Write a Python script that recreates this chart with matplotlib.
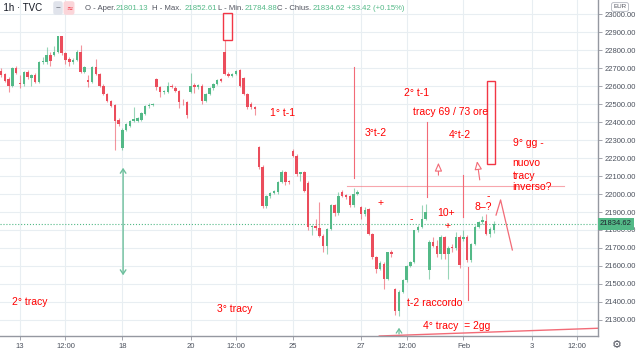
import numpy as np
import matplotlib.pyplot as plt
from matplotlib.patches import Rectangle
from matplotlib.transforms import blended_transform_factory

# DATA --->
# hourly candles, FTSE MIB (TVC), index 0 = last 5 bars of Jan 12
opens = [22685, 22667, 22639, 22602, 22698, 22615, 22611, 22676, 22643, 22661,
         22624, 22732, 22735, 22773, 22773, 22791, 22876, 22784, 22750, 22732,
         22747, 22791, 22680, 22636, 22624, 22704, 22667, 22602, 22556, 22519,
         22495, 22413, 22258, 22358, 22380, 22408, 22408, 22413, 22445, 22487,
         22495, 22639, 22592, 22565, 22565, 22600, 22590, 22574, 22513, 22509,
         22568, 22605, 22592, 22602, 22518, 22555, 22587, 22611, 22639, 22791,
         22667, 22657, 22667, 22690, 22643, 22555, 22500, 22481, 22260, 22149,
         21936, 21987, 22006, 22010, 22065, 22125, 22074, 22241, 22213, 22112,
         22121, 22062, 21815, 21820, 21810, 21769, 21713, 21806, 21939, 21895,
         22010, 21995, 21987, 21939, 22000, 21926, 21889, 21917, 21778, 21648,
         21584, 21611, 21528, 21676, 21473, 21352, 21455, 21520, 21600, 21620,
         21798, 21817, 21863, 21580, 21735, 21713, 21667, 21760, 21667, 21705,
         21700, 21761, 21752, 21761, 21631, 21724, 21817, 21844, 21850, 21780,
         21801.13]
highs = [22700, 22675, 22648, 22705, 22710, 22660, 22685, 22690, 22668, 22670,
         22740, 22760, 22815, 22790, 22820, 22880, 22880, 22790, 22760, 22755,
         22800, 22830, 22710, 22660, 22710, 22750, 22675, 22610, 22560, 22525,
         22500, 22420, 22365, 22395, 22412, 22482, 22430, 22455, 22492, 22505,
         22505, 22645, 22600, 22580, 22620, 22610, 22600, 22580, 22530, 22515,
         22670, 22615, 22610, 22610, 22560, 22592, 22615, 22640, 22645, 22858,
         22680, 22675, 22690, 22695, 22650, 22560, 22510, 22490, 22265, 22160,
         21995, 22012, 22025, 22070, 22135, 22130, 22080, 22250, 22220, 22125,
         22130, 22070, 21830, 21860, 21954, 21780, 21810, 21945, 21945, 22010,
         22020, 22000, 21995, 22035, 22020, 21935, 21930, 21925, 21785, 21655,
         21625, 21620, 21680, 21690, 21480, 21465, 21525, 21605, 21625, 21800,
         21825, 21937, 21946, 21745, 21760, 21745, 21770, 21765, 21710, 21720,
         21790, 21770, 21800, 21770, 21730, 21825, 21850, 21880, 21890, 21815,
         21852.61]
lows = [22650, 22620, 22565, 22595, 22665, 22590, 22600, 22640, 22600, 22615,
        22618, 22720, 22725, 22710, 22765, 22785, 22775, 22720, 22710, 22725,
        22740, 22675, 22670, 22593, 22615, 22660, 22595, 22550, 22510, 22485,
        22245, 22380, 22245, 22350, 22375, 22400, 22400, 22405, 22440, 22480,
        22490, 22580, 22540, 22555, 22560, 22590, 22565, 22480, 22495, 22420,
        22560, 22560, 22585, 22500, 22510, 22548, 22580, 22605, 22625, 22660,
        22650, 22650, 22660, 22595, 22550, 22475, 22470, 22440, 22140, 21925,
        21925, 21980, 22000, 22000, 22060, 22050, 22055, 22205, 22100, 22070,
        22010, 21800, 21770, 21800, 21760, 21680, 21665, 21800, 21880, 21885,
        21985, 21975, 21930, 21930, 21995, 21860, 21880, 21770, 21640, 21560,
        21580, 21470, 21520, 21650, 21330, 21320, 21450, 21510, 21595, 21615,
        21790, 21810, 21855, 21530, 21705, 21650, 21640, 21640, 21530, 21680,
        21690, 21590, 21740, 21620, 21620, 21715, 21810, 21835, 21770, 21760,
        21784.88]
closes = [22661, 22630, 22602, 22698, 22672, 22610, 22676, 22648, 22661, 22624,
          22732, 22741, 22773, 22741, 22791, 22876, 22784, 22747, 22732, 22747,
          22791, 22680, 22704, 22625, 22704, 22667, 22602, 22556, 22519, 22491,
          22408, 22389, 22358, 22389, 22408, 22417, 22421, 22450, 22487, 22495,
          22500, 22592, 22565, 22575, 22602, 22595, 22574, 22509, 22509, 22439,
          22602, 22592, 22605, 22518, 22555, 22587, 22611, 22635, 22630, 22667,
          22657, 22667, 22685, 22602, 22555, 22481, 22481, 22472, 22149, 21936,
          21987, 22006, 22019, 22065, 22125, 22065, 22065, 22213, 22112, 22121,
          22019, 21815, 21824, 21810, 21769, 21713, 21806, 21939, 21895, 21991,
          21991, 21985, 21939, 22000, 22013, 21889, 21913, 21778, 21648, 21584,
          21617, 21528, 21676, 21667, 21352, 21455, 21520, 21600, 21620, 21798,
          21817, 21863, 21900, 21735, 21713, 21667, 21760, 21667, 21700, 21698,
          21760, 21604, 21761, 21631, 21724, 21817, 21844, 21854, 21780, 21807,
          21834.62]

tick_pos = [5, 17, 32, 50, 62, 77, 95, 107, 122, 140, 152]
tick_labels = ['13', '12:00', '18', '20', '12:00', '25', '27', '12:00', 'Feb', '3', '12:00']
price_ticks = list(range(21300, 23001, 100))
# <--- DATA

col_up = '#53b987'
col_dn = '#eb4d5c'
col_txt = '#ff0000'
col_line = '#f26b77'
col_teal = '#6cbf9c'
col_axis = '#4c525e'
fnt = 'Liberation Sans'

o = np.array(opens); h = np.array(highs); l = np.array(lows); c = np.array(closes)
idx = np.arange(len(o))
up = c >= o
colors = np.where(up, col_up, col_dn)

fig = plt.figure(figsize=(6.4, 3.53), dpi=100)
ax = fig.add_axes([0, 17/353, 598/640, 336/353])

ax.vlines(idx, l, h, colors=colors, linewidth=0.8, alpha=0.6, zorder=2)
body_h = np.maximum(np.abs(c - o), 4)
ax.bar(idx, body_h, bottom=np.minimum(o, c), width=0.65, color=colors, zorder=3)

ax.axhline(c[-1], color=col_up, linestyle=':', linewidth=0.8, zorder=1)

ax.set_xlim(-0.28, 157.5)
ax.set_ylim(21211, 23078)

ax.grid(color='#e8eef2', linewidth=0.8, zorder=0)
ax.set_axisbelow(True)
ax.set_xticks(tick_pos)
ax.set_xticklabels(tick_labels, family=fnt)
ax.yaxis.tick_right()
ax.set_yticks(price_ticks)
ax.set_yticklabels(['%.2f' % p for p in price_ticks], family=fnt)
ax.tick_params(axis='both', labelsize=5.5, length=3, width=0.6, pad=2)
ax.tick_params(axis='y', colors='#9598a1', labelcolor=col_axis)
ax.tick_params(axis='x', colors='#9598a1', labelcolor=col_axis, pad=2)
for s in ['top', 'left']:
    ax.spines[s].set_visible(False)
for s in ['right', 'bottom']:
    ax.spines[s].set_color('#9598a1')
    ax.spines[s].set_linewidth(1.0)

# last price label
trans = blended_transform_factory(ax.transAxes, ax.transData)
ax.text(1.003, c[-1], '%.2f' % c[-1], transform=trans, fontsize=5.5, family=fnt,
        color='#1e222d', va='center', ha='left', zorder=5,
        bbox=dict(boxstyle='square,pad=0.3', fc=col_up, ec='none'))

# DRAWINGS --->
ax.add_patch(Rectangle((58.5, 22856), 2.4, 151, fill=False, ec='#f23645', lw=1, zorder=4, clip_on=False))
ax.add_patch(Rectangle((128.1, 22167), 2.2, 462, fill=False, ec='#f23645', lw=1, zorder=4))

ax.plot([93.2, 93.2], [22087, 22707], color=col_line, lw=0.8)
ax.plot([112.3, 112.3], [21983, 22400], color=col_line, lw=0.8)
ax.plot([122, 122], [21872, 22106], color=col_line, lw=0.8)
ax.plot([123.3, 123.3], [21411, 21596], color=col_line, lw=0.8)
ax.plot([91.2, 148.4], [22044, 22044], color=col_line, lw=0.8, alpha=0.6)
ax.plot([130.6, 131.8, 134.9], [21883, 21967, 21689], color=col_line, lw=0.9)
ax.plot([99.8, 157.5], [21211, 21254], color=col_line, lw=1.0, clip_on=False)

ax.annotate('', xy=(115.4, 22189), xytext=(115.4, 22089),
            arrowprops=dict(arrowstyle='-|>,head_length=0.5,head_width=0.22',
                            color=col_line, fc='white', lw=0.8))
ax.annotate('', xy=(125.5, 22198), xytext=(126.4, 22063),
            arrowprops=dict(arrowstyle='-|>,head_length=0.5,head_width=0.22',
                            color=col_line, fc='white', lw=0.8))
ax.annotate('', xy=(105, 21272), xytext=(105, 21207),
            arrowprops=dict(arrowstyle='->,head_length=0.3,head_width=0.2',
                            color=col_teal, lw=0.9), annotation_clip=False)
ax.annotate('', xy=(32.2, 22161), xytext=(32.2, 21533),
            arrowprops=dict(arrowstyle='<->,head_length=0.3,head_width=0.2',
                            color=col_teal, lw=1.0))

notes = [
    (71, 22450, '1° t-1'),
    (96, 22339, '3°t-2'),
    (106.3, 22561, '2° t-1'),
    (108.7, 22456, 'tracy 69 / 73 ore'),
    (118.2, 22328, '4°t-2'),
    (135, 22283, '9° gg -'),
    (135, 22172, 'nuovo'),
    (135, 22100, 'tracy'),
    (135, 22039, 'inverso?'),
    (128, 21989, '-'),
    (125, 21928, '8–?'),
    (99.3, 21948, '+'),
    (107.7, 21859, '-'),
    (115, 21896, '10+'),
    (116.9, 21824, '+'),
    (107, 21396, 't-2 raccordo'),
    (111.3, 21268, '4° tracy  = 2gg'),
    (2.9, 21400, '2° tracy'),
    (57, 21361, '3° tracy'),
]
for nx, ny, s in notes:
    ax.text(nx, ny, s, color=col_txt, fontsize=7.5, family=fnt, va='center', ha='left', zorder=6)
# <--- DRAWINGS

# HEADER --->
fy = 1 - 8/353
fig.text(42/640, fy, 'FTSE MIB Index · 1h · TVC', fontsize=7, color='#131722', family=fnt, ha='right', va='center')
fig.text(58/640, fy, '‒', fontsize=5.5, color='#787b86', ha='center', va='center',
         bbox=dict(boxstyle='round,pad=0.3', fc='#e0e3eb', ec='none'))
fig.text(69/640, fy, '≈', fontsize=5.5, color='#f23645', ha='center', va='center',
         bbox=dict(boxstyle='round,pad=0.3', fc='#fbd5d9', ec='none'))
hdr = [(85, 'O - Aper.', '#50535e'), (116, '21801.13', col_up),
       (152, 'H - Max.', '#50535e'), (185, '21852.61', col_up),
       (218, 'L - Min.', '#50535e'), (245, '21784.88', col_up),
       (277, 'C - Chius.', '#50535e'), (313, '21834.62', col_up),
       (347, '+33.42 (+0.15%)', col_up)]
for hx, s, hc in hdr:
    fig.text(hx/640, fy, s, fontsize=5.6, color=hc, family=fnt, ha='left', va='center')
fig.text(620/640, 1 - 7/353, 'EUR', fontsize=4.5, color='#50535e', family=fnt, ha='center', va='center',
         bbox=dict(boxstyle='round,pad=0.3', fc='white', ec='#b2b5be', lw=0.6))
fig.text(617/640, 1 - 345/353, '⚙', fontsize=8, color='#50535e', family='DejaVu Sans', ha='center', va='center')
# <--- HEADER

fig.savefig('out.png', dpi=100)
